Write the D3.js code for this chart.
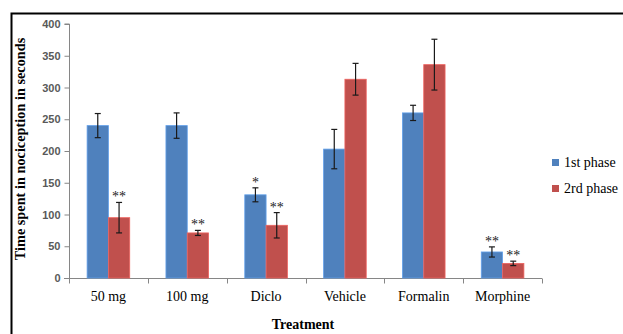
<!DOCTYPE html>
<html>
<head>
<meta charset="utf-8">
<script src="https://cdn.jsdelivr.net/npm/d3@7"></script>
<style>
  body { margin: 0; background: #fff; }
  svg { display: block; }
</style>
</head>
<body>
<svg id="chart" width="623" height="334"></svg>
<script>
'use strict';

const categories = ['50 mg', '100 mg', 'Diclo', 'Vehicle', 'Formalin', 'Morphine'];
const series = ['1st phase', '2rd phase'];
const phase1 = [240, 240, 131, 203, 260, 41];
const phase1Err = [19, 20, 11, 31, 12, 8];
const phase2 = [95, 71, 83, 313, 336, 23];
const phase2Err = [24, 4, 20, 25, 40, 3.5];
const phase1Stars = ['', '', '*', '', '', '**'];
const phase2Stars = ['**', '**', '**', '', '', '**'];
const yTicks = [0, 50, 100, 150, 200, 250, 300, 350, 400];
const colors = ['#4F81BD', '#C0504D'];

const serif = '"Liberation Serif", "Times New Roman", serif';

const svg = d3.select('#chart');

// frame
svg.append('path')
    .attr('d', 'M11.5,334 L11.5,13.5 L623,13.5')
    .attr('fill', 'none')
    .attr('stroke', '#000')
    .attr('stroke-width', 2);

const x = d3.scaleBand()
    .domain(categories)
    .range([69, 542])
    .paddingInner(0)
    .paddingOuter(0);

const inner = d3.scaleBand()
    .domain(series)
    .range([0, x.bandwidth()])
    .paddingOuter(0.85)
    .paddingInner(0);

const y = d3.scaleLinear()
    .domain([0, 400])
    .range([278, 24]);

// y axis
const yAxis = svg.append('g')
    .attr('transform', 'translate(69.5,0)')
    .call(d3.axisLeft(y).tickValues(yTicks).tickSize(5).tickPadding(4));
yAxis.select('.domain').attr('stroke', '#868686').attr('d', 'M-5,' + y(400) + 'H0V' + y(0));
yAxis.selectAll('.tick line').attr('stroke', '#868686');
yAxis.selectAll('.tick text')
    .attr('fill', '#595959')
    .style('font-family', '"Liberation Sans", Arial, sans-serif')
    .style('font-weight', 'bold')
    .style('font-size', '11px');

// x axis
const xAxis = svg.append('g')
    .attr('transform', 'translate(0,' + (y(0) + 0.5) + ')');
xAxis.append('line')
    .attr('x1', 64).attr('x2', 542)
    .attr('stroke', '#868686');
xAxis.selectAll('.xt')
    .data(categories.concat(['end']))
    .enter()
    .append('line')
    .attr('class', 'xt')
    .attr('x1', (d, i) => Math.round(x.range()[0] + i * x.step()) + 0.5)
    .attr('x2', (d, i) => Math.round(x.range()[0] + i * x.step()) + 0.5)
    .attr('y1', 0).attr('y2', 5)
    .attr('stroke', '#868686');
xAxis.selectAll('.xl')
    .data(categories)
    .enter()
    .append('text')
    .attr('x', (d) => x(d) + x.bandwidth() / 2)
    .attr('y', 22)
    .attr('text-anchor', 'middle')
    .attr('font-family', serif)
    .attr('font-size', 14)
    .attr('fill', '#000')
    .text((d) => d);

// bars
const rows = categories.map((c, i) => [
    {cat: c, s: series[0], v: phase1[i], e: phase1Err[i], star: phase1Stars[i], color: colors[0]},
    {cat: c, s: series[1], v: phase2[i], e: phase2Err[i], star: phase2Stars[i], color: colors[1]}
]).flat();

svg.append('g')
    .selectAll('rect')
    .data(rows)
    .enter()
    .append('rect')
    .attr('x', (d) => x(d.cat) + inner(d.s))
    .attr('y', (d) => y(d.v))
    .attr('width', inner.bandwidth())
    .attr('height', (d) => y(0) - y(d.v))
    .attr('fill', (d) => d.color)
    .attr('stroke', (d) => d3.color(d.color).brighter(0.6))
    .attr('stroke-width', 0.8);

// error bars
const eb = svg.append('g')
    .attr('stroke', '#1a1a1a')
    .attr('stroke-width', 1.2);
rows.forEach((d) => {
    const cx = x(d.cat) + inner(d.s) + inner.bandwidth() / 2;
    eb.append('line').attr('x1', cx).attr('x2', cx).attr('y1', y(d.v + d.e)).attr('y2', y(d.v - d.e));
    eb.append('line').attr('x1', cx - 3).attr('x2', cx + 3).attr('y1', y(d.v + d.e)).attr('y2', y(d.v + d.e));
    eb.append('line').attr('x1', cx - 3).attr('x2', cx + 3).attr('y1', y(d.v - d.e)).attr('y2', y(d.v - d.e));
});

// significance stars
svg.append('g')
    .selectAll('text')
    .data(rows.filter((d) => d.star))
    .enter()
    .append('text')
    .attr('x', (d) => x(d.cat) + inner(d.s) + inner.bandwidth() / 2)
    .attr('y', (d) => y(d.v + d.e) - 1)
    .attr('text-anchor', 'middle')
    .attr('font-family', serif)
    .attr('font-size', 14)
    .attr('fill', '#222')
    .text((d) => d.star);

// legend
const legend = svg.append('g')
    .selectAll('g')
    .data(series)
    .enter()
    .append('g')
    .attr('transform', (d, i) => 'translate(552,' + (159 + i * 26) + ')');
legend.append('rect')
    .attr('width', 7).attr('height', 7)
    .attr('fill', (d, i) => colors[i]);
legend.append('text')
    .attr('x', 12)
    .attr('y', 8)
    .attr('font-family', serif)
    .attr('font-size', 14)
    .attr('fill', '#000')
    .text((d) => d);

// axis titles
svg.append('text')
    .attr('transform', 'translate(25,149) rotate(-90)')
    .attr('text-anchor', 'middle')
    .attr('font-family', serif)
    .attr('font-weight', 'bold')
    .attr('font-size', 14.3)
    .attr('fill', '#000')
    .text('Time spent in nociception in seconds');

svg.append('text')
    .attr('x', 303)
    .attr('y', 329)
    .attr('text-anchor', 'middle')
    .attr('font-family', serif)
    .attr('font-weight', 'bold')
    .attr('font-size', 14)
    .attr('fill', '#000')
    .text('Treatment');
</script>
</body>
</html>
